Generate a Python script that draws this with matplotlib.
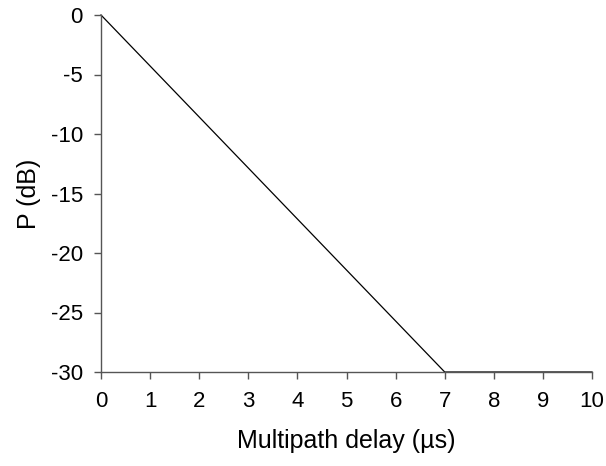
import numpy as np
import matplotlib.pyplot as plt

plt.rcParams['font.family'] = ['Liberation Sans', 'DejaVu Sans']

delay = [0, 7, 10]
power = [0, -30, -30]
xticks = list(range(0, 11))
yticks = [0, -5, -10, -15, -20, -25, -30]

fig = plt.figure(figsize=(6.06, 4.66), dpi=100)
ax = fig.add_axes([101/606, 1 - 372/466, (592 - 101)/606, (372 - 15)/466])
# spines sit above the line so the flat part at -30 looks like the axis
ax.plot(delay, power, color='black', linewidth=0.9, clip_on=False, zorder=1.5)

ax.set_xlim(0, 10)
ax.set_ylim(-30, 0)
ax.set_xticks(xticks)
ax.set_yticks(yticks)
ax.set_yticklabels([str(v) for v in yticks])

for side in ['top', 'right']:
    ax.spines[side].set_visible(False)
for side in ['left', 'bottom']:
    ax.spines[side].set_color('#555555')
    ax.spines[side].set_linewidth(1.0)
ax.tick_params(direction='out', length=5, width=1, color='#555555', labelsize=16)
ax.tick_params(axis='x', pad=9)
ax.tick_params(axis='y', pad=8)

ax.set_xlabel('Multipath delay (µs)', fontsize=18, labelpad=12)
ax.set_ylabel('P (dB)', fontsize=18, labelpad=7)

fig.savefig('out.png', dpi=100)
